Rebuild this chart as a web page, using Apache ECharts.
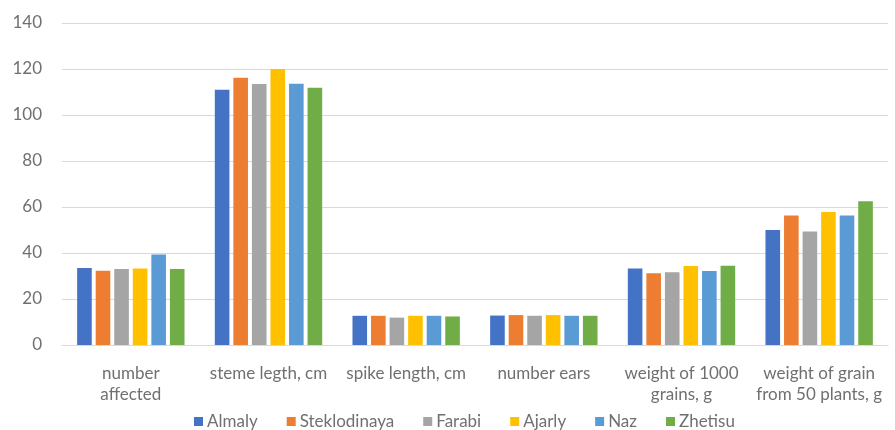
<!DOCTYPE html>
<html><head><meta charset="utf-8">
<script src="https://cdn.jsdelivr.net/npm/echarts@6/dist/echarts.min.js"></script>
<style>html,body{margin:0;padding:0;background:#fff}#c{width:895px;height:430px}</style>
</head><body><div id="c"></div>
<script>
const categories = ["number\naffected", "steme legth, cm", "spike length, cm", "number ears", "weight of 1000\ngrains, g", "weight of grain\nfrom 50 plants, g"];
const seriesNames = ["Almaly", "Steklodinaya", "Farabi", "Ajarly", "Naz", "Zhetisu"];
const almaly = [33.5, 111, 12.7, 12.8, 33.3, 50];
const steklodinaya = [32.3, 116.2, 12.7, 13, 31.2, 56.3];
const farabi = [33, 113.5, 11.9, 12.7, 31.6, 49.4];
const ajarly = [33.3, 120, 12.7, 13, 34.3, 57.8];
const naz = [39.4, 113.6, 12.7, 12.7, 32.2, 56.3];
const zhetisu = [33, 111.8, 12.4, 12.7, 34.5, 62.5];
const yTicks = [0, 20, 40, 60, 80, 100, 120, 140];
const colors = ["#4472C4", "#ED7D31", "#A5A5A5", "#FFC000", "#5B9BD5", "#70AD47"];

const values = [almaly, steklodinaya, farabi, ajarly, naz, zhetisu];
const chart = echarts.init(document.getElementById('c'));
const font = "Lato, 'Open Sans', sans-serif";
chart.setOption({
  animation: false,
  color: colors,
  grid: {left: 62, right: 7, top: 23, bottom: 85, containLabel: false},
  legend: {
    top: 413, left: 194, itemWidth: 9, itemHeight: 9, itemGap: 29,
    icon: 'rect', padding: 0,
    textStyle: {color: '#707070', fontSize: 17, fontFamily: font, padding: [0, 0, 0, -1]},
    data: seriesNames
  },
  xAxis: {
    type: 'category', data: categories,
    axisLine: {lineStyle: {color: '#D9D9D9'}},
    axisTick: {show: false},
    axisLabel: {color: '#707070', fontSize: 17, fontFamily: font, interval: 0, margin: 18, lineHeight: 21}
  },
  yAxis: {
    type: 'value', min: yTicks[0], max: yTicks[yTicks.length - 1], interval: 20,
    axisLine: {show: false}, axisTick: {show: false},
    splitLine: {lineStyle: {color: '#D9D9D9'}},
    axisLabel: {color: '#707070', fontSize: 17, fontFamily: font, margin: 20}
  },
  series: seriesNames.map((n, i) => ({
    name: n, type: 'bar', data: values[i],
    barGap: '27%', barCategoryGap: '22%'
  }))
});
</script></body></html>
